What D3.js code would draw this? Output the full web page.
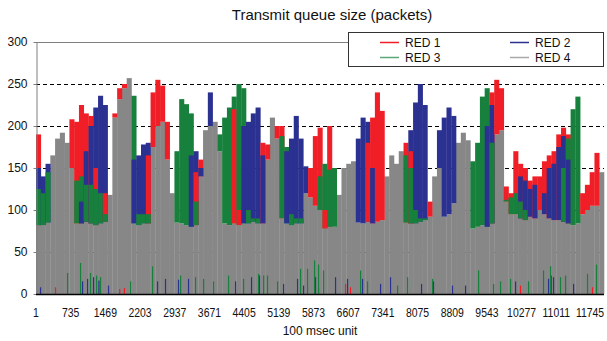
<!DOCTYPE html>
<html>
<head>
<meta charset="utf-8">
<script src="https://cdn.jsdelivr.net/npm/d3@7"></script>
<style>
  body { margin: 0; background: #fff; }
  text { font-family: "Liberation Sans", Arial, sans-serif; fill: #111; }
</style>
</head>
<body>
<svg id="chart" width="607" height="341"></svg>
<script>
// queue size per 101-sample bin (peak value)
const red1 = [190,75,75,75,75,75,75,208,205,225,215,212,150,75,120,75,215,245,250,75,
  75,75,75,165,240,255,248,205,75,75,75,75,75,145,160,175,75,75,75,75,
  75,220,100,75,75,75,75,180,178,175,200,200,75,75,75,75,75,150,188,198,
  100,200,75,75,75,75,75,75,75,180,210,240,218,120,75,75,75,180,170,75,
  75,75,110,75,75,75,75,75,75,75,75,75,75,75,75,240,255,245,128,120,
  170,155,150,135,140,140,158,165,170,190,198,190,75,75,120,130,145,168,140];
const red2 = [150,140,155,75,75,75,75,75,75,110,170,200,222,236,225,75,75,75,75,75,
  160,165,178,180,75,75,75,75,75,75,75,75,165,170,150,75,240,190,75,75,
  75,75,75,200,205,215,222,165,140,75,75,75,170,185,212,185,152,75,75,75,
  75,75,75,75,75,75,130,185,210,205,150,75,75,75,75,75,75,75,195,228,
  250,225,75,130,195,210,222,212,75,75,75,75,75,75,200,225,75,75,75,75,
  75,140,135,125,130,75,120,150,155,175,188,160,75,75,75,75,75,75,75];
const red3 = [125,120,145,75,75,75,75,90,135,140,130,130,125,120,95,75,75,75,75,75,
  236,95,95,95,75,75,75,75,75,170,232,226,215,110,75,75,75,75,190,210,
  222,235,250,245,100,90,90,75,75,75,175,188,175,95,90,90,75,75,75,140,
  155,148,150,75,75,75,75,75,75,75,75,75,75,130,75,75,160,165,150,100,
  90,90,75,75,75,75,75,75,75,75,75,158,180,235,245,180,75,75,112,115,
  120,110,100,75,75,75,75,75,75,75,150,185,220,235,75,75,75,75,75];
const red4 = [82,82,85,165,185,192,180,150,84,84,86,84,82,84,86,118,210,232,245,257,
  84,82,84,84,175,200,205,160,120,85,84,82,80,82,140,195,200,205,170,84,
  82,84,82,84,84,86,84,84,160,210,185,90,84,82,84,84,120,115,105,100,
  78,80,80,118,150,155,158,85,84,86,84,86,88,140,165,155,170,85,84,84,
  86,88,92,140,150,92,95,108,180,192,183,78,80,82,80,84,190,195,110,95,
  95,90,88,92,90,100,95,90,88,88,86,84,82,84,95,100,105,105,145];

// short drops to the bottom: sample index, value
const red1Spikes = [[402,8],[1760,6],[1860,7],[5967,7],[6539,12],[6644,8],[10241,10],[11764,8]];
const red2Spikes = [[85,8],[974,15],[1080,18],[1206,20],[1320,16],[1523,10],[2560,15],[2729,18],
  [3005,17],[3216,18],[4211,15],[4549,20],[4719,22],[5227,12],[5523,18],[5650,10],[5903,20],
  [6327,20],[6581,18],[6898,18],[7279,12],[7490,20],[8147,12],[8400,15],[8802,10],
  [9078,10],[10136,15],[10834,18],[10890,22],[10940,20],[11364,12]];
const red3Spikes = [[657,25],[931,37],[1143,25],[1270,22],[1354,20],[1990,15],[2455,33],
  [3048,22],[3365,20],[3535,18],[3746,15],[4063,22],[4381,18],[4699,24],[4805,22],
  [4888,22],[5101,15],[5587,30],[5735,30],[5883,40],[5967,35],[6073,28],[6857,28],
  [7004,15],[7640,10],[7851,20],[8380,18],[9354,28],[9671,12],[9819,15],[10030,18],
  [10411,15],[10728,28],[10877,33],[11088,20],[11194,22],[11659,24],[11849,35]];

const seriesNames = ["RED 1", "RED 2", "RED 3", "RED 4"];
const seriesColors = ["#f01e26", "#2b3190", "#17803d", "#878787"];
const legendColors = ["#f01e26", "#2b3190", "#5aa877", "#a8a8a8"];
const xTicks = [1,735,1469,2203,2937,3671,4405,5139,5873,6607,7341,8075,8809,9543,10277,11011,11745];
const yTicks = [0,50,100,150,200,250,300];
const binSize = 101;
const nSamples = 12019;

const svg = d3.select("#chart");
const margin = { top: 42, right: 3, bottom: 47, left: 36 };
const width = 607 - margin.left - margin.right,
  height = 341 - margin.top - margin.bottom;

const x = d3.scaleLinear().domain([1, nSamples + 1]).range([margin.left, margin.left + width]);
const y = d3.scaleLinear().domain([0, 300]).range([margin.top + height, margin.top]);

// grid
svg.append("g")
  .selectAll("line")
  .data(yTicks.filter((d) => d > 0 && d < 300))
  .join("line")
  .attr("x1", margin.left)
  .attr("x2", margin.left + width)
  .attr("y1", (d) => Math.round(y(d)) + 0.5)
  .attr("y2", (d) => Math.round(y(d)) + 0.5)
  .attr("stroke", "#000")
  .attr("stroke-dasharray", "4,3");

const binX = (i) => x(i * binSize + 1);
const binW = (i) => binX(i + 1) - binX(i) + 0.3;

// RED 4 fills from the floor; the others show only above it, tallest at the back
svg.append("g")
  .selectAll("rect")
  .data(red4)
  .join("rect")
  .attr("x", (d, i) => binX(i))
  .attr("width", (d, i) => binW(i))
  .attr("y", (d) => y(d))
  .attr("height", (d) => y(0) - y(d))
  .attr("fill", seriesColors[3]);

const coloured = [red1, red2, red3];
const cells = [];
for (let i = 0; i < red4.length; i++) {
  const col = coloured
    .map((arr, s) => ({ i: i, s: s, v: arr[i], base: red4[i] }))
    .filter((c) => c.v > c.base);
  col.sort((a, b) => b.v - a.v);
  col.forEach((c) => cells.push(c));
}

svg.append("g")
  .selectAll("rect")
  .data(cells)
  .join("rect")
  .attr("x", (d) => binX(d.i))
  .attr("width", (d) => binW(d.i))
  .attr("y", (d) => y(d.v))
  .attr("height", (d) => y(d.base) - y(d.v))
  .attr("fill", (d) => seriesColors[d.s]);

const spikes = [
  { s: 0, pts: red1Spikes },
  { s: 1, pts: red2Spikes },
  { s: 2, pts: red3Spikes },
];
spikes.forEach((sp) => {
  svg.append("g")
    .selectAll("rect")
    .data(sp.pts)
    .join("rect")
    .attr("x", (d) => x(d[0]))
    .attr("width", 1.2)
    .attr("y", (d) => y(d[1]))
    .attr("height", (d) => y(0) - y(d[1]))
    .attr("fill", seriesColors[sp.s]);
});

// frame
svg.append("line")
  .attr("x1", margin.left).attr("x2", margin.left + width)
  .attr("y1", margin.top + 0.5).attr("y2", margin.top + 0.5)
  .attr("stroke", "#808080");

const yAxis = svg.append("g")
  .attr("transform", "translate(" + (margin.left + 0.5) + ",0)")
  .call(d3.axisLeft(y).tickValues(yTicks).tickSize(3).tickSizeOuter(0));
yAxis.select(".domain").attr("stroke", "#808080");
yAxis.selectAll(".tick line").attr("stroke", "#808080");
yAxis.selectAll("text").attr("x", -9).style("font-size", "12px");

svg.append("line")
  .attr("x1", margin.left).attr("x2", margin.left + width)
  .attr("y1", y(0) + 0.5).attr("y2", y(0) + 0.5)
  .attr("stroke", "#000").attr("stroke-width", 1.5);

svg.append("g")
  .selectAll("text")
  .data(xTicks)
  .join("text")
  .attr("transform", (d) => "translate(" + Math.min(x(d), 590) + ",317) scale(0.87,1)")
  .attr("text-anchor", "middle")
  .style("font-size", "12px")
  .text((d) => d);

svg.append("text")
  .attr("x", 320)
  .attr("y", 335)
  .attr("text-anchor", "middle")
  .style("font-size", "12px")
  .text("100 msec unit");

svg.append("text")
  .attr("x", 332)
  .attr("y", 20)
  .attr("text-anchor", "middle")
  .style("font-size", "15px")
  .text("Transmit queue size (packets)");

// legend
const legend = svg.append("g");
legend.append("rect")
  .attr("x", 348.5).attr("y", 32.5)
  .attr("width", 255).attr("height", 34)
  .attr("fill", "#fff").attr("stroke", "#333");
const lx = [380, 510], ly = [42, 57];
seriesNames.forEach((name, k) => {
  const cx = lx[k % 2], cy = ly[Math.floor(k / 2)];
  legend.append("line")
    .attr("x1", cx).attr("x2", cx + 19)
    .attr("y1", cy + 0.5).attr("y2", cy + 0.5)
    .attr("stroke", legendColors[k]).attr("stroke-width", 1.5);
  legend.append("text")
    .attr("x", cx + 25).attr("y", cy + 4.5)
    .style("font-size", "12px")
    .text(name);
});
</script>
</body>
</html>
